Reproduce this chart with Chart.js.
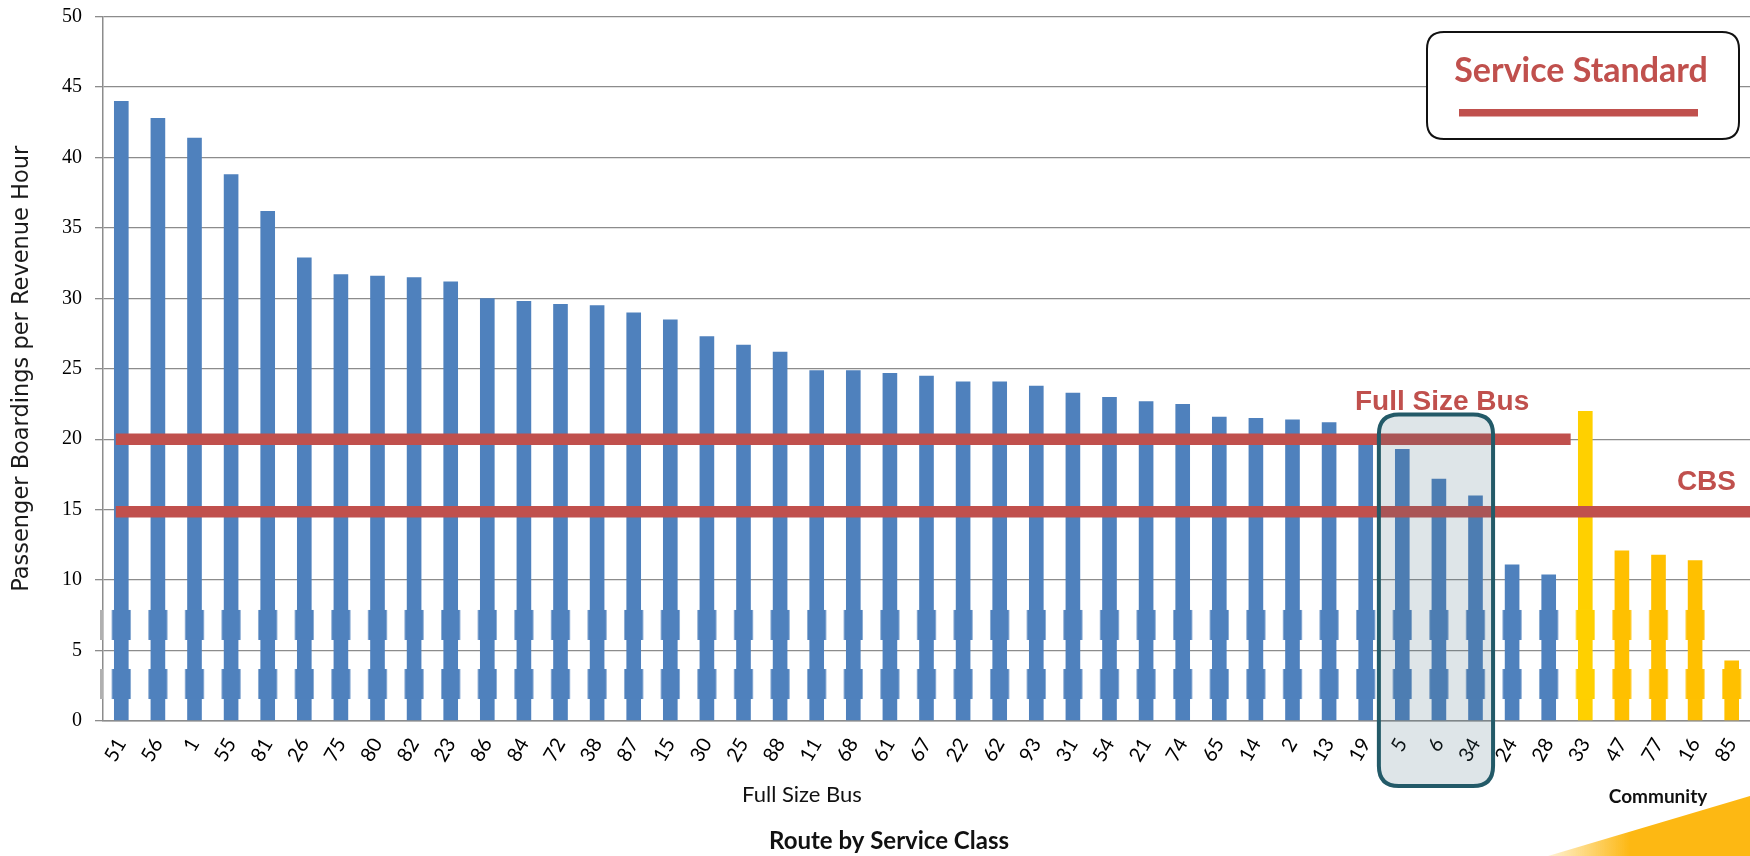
<!DOCTYPE html>
<html>
<head>
<meta charset="utf-8">
<title>Passenger Boardings per Revenue Hour by Route</title>
<script src="https://cdn.jsdelivr.net/npm/chart.js@4.4.1/dist/chart.umd.min.js"></script>
<style>
  html, body { margin: 0; padding: 0; background: #ffffff; }
  #wrap { width: 1750px; height: 856px; position: relative; }
</style>
</head>
<body>
<div id="wrap"><canvas id="chart" width="1750" height="856"></canvas></div>
<script>
// Routes, ordered by productivity within each service class
const routes = ['51','56','1','55','81','26','75','80','82','23','86','84','72','38','87','15','30','25','88','11',
                '68','61','67','22','62','93','31','54','21','74','65','14','2','13','19','5','6','34','24','28',
                '33','47','77','16','85'];

// Passenger boardings per revenue hour
const boardings = [44.0, 42.8, 41.4, 38.8, 36.2, 32.9, 31.7, 31.6, 31.5, 31.2, 30.0, 29.8, 29.6, 29.5, 29.0, 28.5, 27.3, 26.7, 26.2, 24.9,
                   24.9, 24.7, 24.5, 24.1, 24.1, 23.8, 23.3, 23.0, 22.7, 22.5, 21.6, 21.5, 21.4, 21.2, 19.8, 19.3, 17.2, 16.0, 11.1, 10.4,
                   22.0, 12.1, 11.8, 11.4, 4.3];

// Service class of each route
const serviceClass = routes.map((r, i) => (i < 40 ? 'Full Size Bus' : 'Community'));

// Y axis ticks
const yTicks = [0, 5, 10, 15, 20, 25, 30, 35, 40, 45, 50];

// Service standards (boardings per revenue hour)
const fullSizeStandard = 20;
const cbsStandard = 14.85;
const fullSizeStandardLastRoute = '28';

// Routes flagged below the full size bus standard
const flaggedRoutes = ['5', '6', '34'];

// Colours
const FULL_BLUE = '#4F81BD';
const COMMUNITY_GOLD = '#FFC000';
const COMMUNITY_GOLD_LIGHT = '#FFD000';
const STANDARD_RED = '#C0504D';
const GRID_GREY = '#8C8C8C';

const barColors = routes.map((r, i) =>
  serviceClass[i] === 'Community' ? (r === '33' ? COMMUNITY_GOLD_LIGHT : COMMUNITY_GOLD) : FULL_BLUE);

function roundRect(ctx, x, y, w, h, r) {
  ctx.beginPath();
  ctx.moveTo(x + r, y);
  ctx.lineTo(x + w - r, y);
  ctx.quadraticCurveTo(x + w, y, x + w, y + r);
  ctx.lineTo(x + w, y + h - r);
  ctx.quadraticCurveTo(x + w, y + h, x + w - r, y + h);
  ctx.lineTo(x + r, y + h);
  ctx.quadraticCurveTo(x, y + h, x, y + h - r);
  ctx.lineTo(x, y + r);
  ctx.quadraticCurveTo(x, y, x + r, y);
  ctx.closePath();
}

function lighten(hex, amt) {
  const n = parseInt(hex.slice(1), 16);
  const r = (n >> 16) & 255, g = (n >> 8) & 255, b = n & 255;
  const f = c => Math.round(c + (255 - c) * amt);
  return `rgb(${f(r)},${f(g)},${f(b)})`;
}

// Annotations: banding on bars, standard lines, flagged-route box, labels
const annotations = {
  id: 'annotations',
  afterDatasetsDraw(chart) {
    const ctx = chart.ctx;
    const x = chart.scales.x;
    const y = chart.scales.y;
    const area = chart.chartArea;
    const meta = chart.getDatasetMeta(0);
    const step = x.getPixelForValue(1) - x.getPixelForValue(0);

    // slightly wider banding near the base of the bars
    const bands = [[1.56, 3.69], [5.75, 7.88]];
    ctx.save();
    meta.data.forEach((bar, i) => {
      const v = boardings[i];
      bands.forEach(([lo, hi]) => {
        if (v <= lo) return;
        const top = y.getPixelForValue(Math.min(hi, v));
        const bot = y.getPixelForValue(lo);
        const w = bar.width;
        ctx.fillStyle = lighten(barColors[i], 0.35);
        ctx.fillRect(bar.x - w / 2 - 2.4, top, w + 4.8, bot - top);
        ctx.fillStyle = barColors[i];
        ctx.fillRect(bar.x - w / 2 - 1.4, top, w + 2.8, bot - top);
      });
    });
    bands.forEach(([lo, hi]) => {
      ctx.fillStyle = '#B0B0B0';
      const t = y.getPixelForValue(hi), b = y.getPixelForValue(lo);
      ctx.fillRect(area.left - 3, t, 3, b - t);
    });
    ctx.restore();

    // service standard lines
    const startX = x.getPixelForValue(0) - 0.15 * step;
    const fsEnd = x.getPixelForValue(routes.indexOf(fullSizeStandardLastRoute)) + 0.6 * step;
    ctx.save();
    ctx.strokeStyle = STANDARD_RED;
    ctx.lineWidth = 11.5;
    ctx.lineCap = 'butt';
    let py = y.getPixelForValue(fullSizeStandard);
    ctx.beginPath(); ctx.moveTo(startX, py); ctx.lineTo(fsEnd, py); ctx.stroke();
    py = y.getPixelForValue(cbsStandard);
    ctx.beginPath(); ctx.moveTo(startX, py); ctx.lineTo(area.right, py); ctx.stroke();
    ctx.restore();

    // box around the flagged routes
    const i0 = routes.indexOf(flaggedRoutes[0]);
    const i1 = routes.indexOf(flaggedRoutes[flaggedRoutes.length - 1]);
    const bx0 = x.getPixelForValue(i0) - 0.64 * step;
    const bx1 = x.getPixelForValue(i1) + 0.48 * step;
    const by0 = y.getPixelForValue(21.75);
    const by1 = area.bottom + 65;
    ctx.save();
    roundRect(ctx, bx0, by0, bx1 - bx0, by1 - by0, 20);
    ctx.fillStyle = 'rgba(70,110,130,0.18)';
    ctx.fill();
    ctx.lineWidth = 4;
    ctx.strokeStyle = '#235A68';
    ctx.stroke();
    ctx.restore();

    // standard labels
    ctx.save();
    ctx.fillStyle = STANDARD_RED;
    ctx.font = 'bold 28px "Liberation Sans", Arial, sans-serif';
    ctx.textBaseline = 'alphabetic';
    ctx.textAlign = 'left';
    ctx.fillText('Full Size Bus', 1355, 410);
    ctx.textAlign = 'right';
    ctx.fillText('CBS', 1736, 490);
    ctx.restore();

    // legend box
    ctx.save();
    roundRect(ctx, 1427, 32, 312, 107, 17);
    ctx.fillStyle = '#ffffff';
    ctx.fill();
    ctx.lineWidth = 2;
    ctx.strokeStyle = '#111111';
    ctx.stroke();
    ctx.fillStyle = STANDARD_RED;
    ctx.font = 'bold 34px Lato, sans-serif';
    ctx.textAlign = 'center';
    ctx.textBaseline = 'alphabetic';
    ctx.fillText('Service Standard', 1581, 82);
    ctx.fillRect(1459, 109, 239, 7.5);
    ctx.restore();
  },
  afterDraw(chart) {
    const ctx = chart.ctx;
    ctx.save();
    ctx.fillStyle = '#111111';
    ctx.textAlign = 'center';
    ctx.textBaseline = 'alphabetic';
    ctx.font = '22px Lato, sans-serif';
    ctx.fillText('Full Size Bus', 802, 802);
    ctx.font = 'bold 19px Lato, sans-serif';
    ctx.fillText('Community', 1658, 803);
    ctx.font = 'bold 24px Lato, sans-serif';
    ctx.fillText('Route by Service Class', 889, 849);

    // corner accent
    const g = ctx.createLinearGradient(1550, 0, 1630, 0);
    g.addColorStop(0, 'rgba(253,184,19,0.2)');
    g.addColorStop(1, 'rgba(253,184,19,1)');
    ctx.fillStyle = g;
    ctx.beginPath();
    ctx.moveTo(1548, 856);
    ctx.lineTo(1750, 796);
    ctx.lineTo(1750, 856);
    ctx.closePath();
    ctx.fill();
    ctx.restore();
  }
};

new Chart(document.getElementById('chart'), {
  type: 'bar',
  data: {
    labels: routes,
    datasets: [{
      label: 'Boardings per Revenue Hour',
      data: boardings,
      backgroundColor: barColors,
      borderWidth: 0,
      barPercentage: 0.4,
      categoryPercentage: 1.0
    }]
  },
  options: {
    responsive: false,
    animation: false,
    devicePixelRatio: 1,
    layout: { padding: { left: 0, right: 0, top: 16.5, bottom: 0 } },
    plugins: {
      legend: { display: false },
      tooltip: { enabled: false },
      title: { display: false }
    },
    scales: {
      x: {
        type: 'category',
        offset: true,
        grid: { display: false },
        border: { display: true, color: GRID_GREY, width: 1.5 },
        ticks: {
          autoSkip: false,
          minRotation: 60,
          maxRotation: 60,
          padding: 5,
          color: '#000000',
          font: { family: 'Lato, sans-serif', size: 20 }
        },
        afterFit(scale) {
          scale.height = 135;
          scale.paddingLeft = 0;
          scale.paddingRight = 0;
        }
      },
      y: {
        min: 0,
        max: 50,
        afterBuildTicks(scale) { scale.ticks = yTicks.map(v => ({ value: v })); },
        grid: { color: GRID_GREY, lineWidth: 1.3, tickLength: 8, drawTicks: true },
        border: { display: true, color: GRID_GREY, width: 1.5 },
        ticks: {
          padding: 13,
          color: '#000000',
          font: { family: '"Liberation Serif", serif', size: 20 }
        },
        title: {
          display: true,
          text: 'Passenger Boardings per Revenue Hour',
          color: '#1a1a1a',
          font: { family: '"DejaVu Sans", sans-serif', size: 22.5 },
          padding: { top: 9, bottom: 0 }
        },
        afterFit(scale) {
          scale.width = 103;
          scale.paddingTop = 0;
          scale.paddingBottom = 0;
        }
      }
    }
  },
  plugins: [annotations]
});
</script>
</body>
</html>
